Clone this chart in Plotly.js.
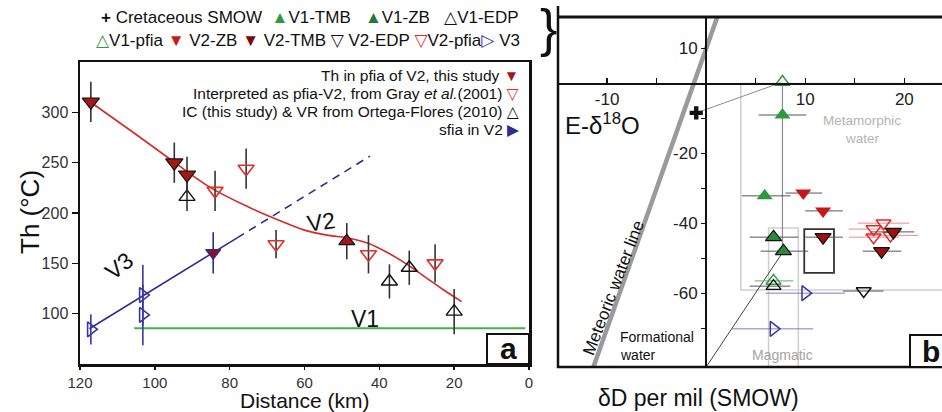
<!DOCTYPE html>
<html><head><meta charset="utf-8">
<script src="https://cdn.plot.ly/plotly-3.0.1.min.js"></script>
<style>html,body{margin:0;padding:0;background:#fff}</style>
</head><body><div id="chart" style="width:942px;height:412px"></div>
<script>
// ---------- Panel a: Th vs distance ----------
const tickKmA = [120, 100, 80, 60, 40, 20, 0];
const tickThA = [100, 150, 200, 250, 300];

const v2StudyKm = [117.1, 94.8, 91.4];
const v2StudyTh = [310.5, 250, 238];
const v2StudyErr = [20, 20, 18];
const v2StudyUpKm = [48.7];
const v2StudyUpTh = [172];
const v2StudyUpErr = [18];
const grayKm = [83.9, 75.6, 67.6, 42.9, 25.1];
const grayTh = [222, 244, 169, 159, 150];
const grayErr = [20, 20, 14, 19, 19];
const ortegaKm = [91.4, 37.3, 32.0, 20.0];
const ortegaTh = [216, 132, 145.6, 102];
const ortegaErr = [14, 17, 17, 22.5];
const sfiaKm = [84.4];
const sfiaTh = [160.5];
const sfiaErr = [20.5];
const v3Km = [117.1, 103.2, 103.2];
const v3Th = [84.4, 118.5, 98.7];
const v3Err = [15, 30, 30];

const v2CurveKm = [117.5, 105, 95, 85, 75, 67, 60, 54, 48, 43, 38, 33, 28, 23, 18];
const v2CurveTh = [311, 278, 251, 225, 206, 193, 183, 178, 175, 170, 161, 150, 137, 124, 112];
const v3SolidKm = [117.5, 78];
const v3SolidTh = [85, 175.3];
const v3DashKm = [78, 42.5];
const v3DashTh = [175.3, 256.5];
const v1LineKm = [105.5, 1];
const v1LineTh = [85.4, 85.4];

// ---------- Panel b: isotopes ----------
const tickOxB = [-10, -5, 5, 10, 15, 20];
const tickOxLabels = ['-10', '', '', '10', '', '20'];
const tickDB = [10, -10, -20, -30, -40, -50, -60, -70];
const tickDLabels = ['10', '', '-20', '', '-40', '', '-60', ''];

const smowO = [-1.0]; const smowD = [-8.4];
const v1TmbO = [7.7, 5.9]; const v1TmbD = [-9.0, -32.1];
const v1TmbLo = [2.4, 2.3]; const v1TmbHi = [2.4, 2.6];
const v1ZbO = [6.8, 7.8]; const v1ZbD = [-43.9, -47.9];
const v1ZbLo = [2.4, 2.3]; const v1ZbHi = [2.5, 2.5];
const v1EdpO = [6.8]; const v1EdpD = [-57.9];
const v1EdpLo = [2.4]; const v1EdpHi = [1.7];
const v1PfiaO = [7.7, 6.8]; const v1PfiaD = [0.4, -56.4];
const v1PfiaLo = [0, 1.9]; const v1PfiaHi = [0, 2.0];
const v2ZbO = [9.8, 11.8]; const v2ZbD = [-31.3, -36.4];
const v2ZbLo = [1.8, 1.8]; const v2ZbHi = [1.9, 2.0];
const v2TmbO = [11.8, 18.9, 17.7]; const v2TmbD = [-43.9, -42.4, -47.9];
const v2TmbLo = [1.8, 2.3, 1.9]; const v2TmbHi = [2.0, 2.1, 2.0];
const v2EdpO = [15.9]; const v2EdpD = [-59.3];
const v2EdpLo = [2.1]; const v2EdpHi = [2.0];
const v2PfiaO = [17.9, 16.9, 16.9, 18.6]; const v2PfiaD = [-39.9, -41.6, -43.9, -43.4];
const v2PfiaLo = [2.6, 2.5, 2.5, 2.6]; const v2PfiaHi = [2.6, 2.6, 2.6, 2.8];
const v3O = [10.0, 6.8]; const v3D = [-59.9, -70.1];
const v3Lo = [4.0, 4.2]; const v3Hi = [4.0, 4.0];

const mwlO = [-11.4, 1.3]; const mwlD = [-81.2, 20.4];
const smowLinkO = [-1.0, 7.5]; const smowLinkD = [-8.4, 0.2];
const pfiaDropO = [7.7, 7.7]; const pfiaDropD = [0, -47];
const diagO = [0, 7.8]; const diagD = [-81, -47.9];
const metamorphicBox = [3.5, 30, -59, 0];
const magmaticBox = [6.3, 9.3, -85, -41.3];
const studyBox = [9.9, 12.9, -54.1, -41.6];

// ---------- helpers ----------
const W = 942, H = 412;
const px = v => v / W;
const py = v => 1 - v / H;
const FONT = 'Arial, "Liberation Sans", "DejaVu Sans", sans-serif';

function errY(arr, color) {
  return {type: 'data', array: arr, visible: true, color: color || '#333', thickness: 1.6, width: 0};
}
function errX(hi, lo, color) {
  return {type: 'data', array: hi, arrayminus: lo, visible: true, color: color || '#555', thickness: 1, width: 0};
}

const traces = [
  // panel a lines
  {x: v1LineKm, y: v1LineTh, mode: 'lines', line: {color: '#45b04f', width: 2}, xaxis: 'x', yaxis: 'y'},
  {x: v3DashKm, y: v3DashTh, mode: 'lines', line: {color: '#2f2c92', width: 1.6, dash: '8px,6px'}, xaxis: 'x', yaxis: 'y'},
  {x: v3SolidKm, y: v3SolidTh, mode: 'lines', line: {color: '#2f2c92', width: 1.6}, xaxis: 'x', yaxis: 'y'},
  {x: v2CurveKm, y: v2CurveTh, mode: 'lines', line: {color: '#d42a2a', width: 1.6, shape: 'spline'}, xaxis: 'x', yaxis: 'y'},
  // panel a points
  {x: v3Km, y: v3Th, mode: 'markers', error_y: errY(v3Err, '#3a36a0'),
   marker: {symbol: 'triangle-right-open', size: 13, color: '#3a36a0', line: {width: 1.6}}, xaxis: 'x', yaxis: 'y'},
  {x: ortegaKm, y: ortegaTh, mode: 'markers', error_y: errY(ortegaErr),
   marker: {symbol: 'triangle-up-open', size: 14, color: '#111', line: {width: 1.4}}, xaxis: 'x', yaxis: 'y'},
  {x: grayKm, y: grayTh, mode: 'markers', error_y: errY(grayErr),
   marker: {symbol: 'triangle-down-open', size: 14, color: '#e0302a', line: {width: 1.6}}, xaxis: 'x', yaxis: 'y'},
  {x: v2StudyKm, y: v2StudyTh, mode: 'markers', error_y: errY(v2StudyErr),
   marker: {symbol: 'triangle-down', size: 15, color: '#a01818', line: {width: 1.2, color: '#111'}}, xaxis: 'x', yaxis: 'y'},
  {x: v2StudyUpKm, y: v2StudyUpTh, mode: 'markers', error_y: errY(v2StudyUpErr),
   marker: {symbol: 'triangle-up', size: 14, color: '#a01818', line: {width: 1.2, color: '#111'}}, xaxis: 'x', yaxis: 'y'},
  {x: sfiaKm, y: sfiaTh, mode: 'markers', error_y: errY(sfiaErr, '#2f2c92'),
   marker: {symbol: 'triangle-down', size: 13, color: '#8a1030', line: {width: 1.2, color: '#2f2c92'}}, xaxis: 'x', yaxis: 'y'},

  // panel b lines
  {x: mwlO, y: mwlD, mode: 'lines', line: {color: '#9a9a9a', width: 4.5}, xaxis: 'x2', yaxis: 'y2'},
  {x: smowLinkO, y: smowLinkD, mode: 'lines', line: {color: '#8a8a8a', width: 1}, xaxis: 'x2', yaxis: 'y2'},
  {x: pfiaDropO, y: pfiaDropD, mode: 'lines', line: {color: '#8a8a8a', width: 1.2}, xaxis: 'x2', yaxis: 'y2'},
  {x: diagO, y: diagD, mode: 'lines', line: {color: '#444', width: 1}, xaxis: 'x2', yaxis: 'y2'},
  // panel b points
  {x: v2PfiaO, y: v2PfiaD, mode: 'markers', error_x: errX(v2PfiaHi, v2PfiaLo, '#f08a8a'),
   marker: {symbol: 'triangle-down-open', size: 13, color: '#e02828', line: {width: 1.5}}, xaxis: 'x2', yaxis: 'y2'},
  {x: v3O, y: v3D, mode: 'markers', error_x: errX(v3Hi, v3Lo, '#7e7cc8'),
   marker: {symbol: 'triangle-right-open', size: 13, color: '#3a36a0', line: {width: 1.5}}, xaxis: 'x2', yaxis: 'y2'},
  {x: v1PfiaO, y: v1PfiaD, mode: 'markers', error_x: errX(v1PfiaHi, v1PfiaLo, '#55bb55'),
   marker: {symbol: 'triangle-up-open', size: 13, color: '#2e9a3e', line: {width: 1.5}}, xaxis: 'x2', yaxis: 'y2'},
  {x: v1EdpO, y: v1EdpD, mode: 'markers', error_x: errX(v1EdpHi, v1EdpLo, '#555'),
   marker: {symbol: 'triangle-up-open', size: 13, color: '#111', line: {width: 1.4}}, xaxis: 'x2', yaxis: 'y2'},
  {x: v2EdpO, y: v2EdpD, mode: 'markers', error_x: errX(v2EdpHi, v2EdpLo, '#555'),
   marker: {symbol: 'triangle-down-open', size: 13, color: '#111', line: {width: 1.4}}, xaxis: 'x2', yaxis: 'y2'},
  {x: v1TmbO, y: v1TmbD, mode: 'markers', error_x: errX(v1TmbHi, v1TmbLo),
   marker: {symbol: 'triangle-up', size: 14, color: '#2e9a3e', line: {width: 0}}, xaxis: 'x2', yaxis: 'y2'},
  {x: v1ZbO, y: v1ZbD, mode: 'markers', error_x: errX(v1ZbHi, v1ZbLo),
   marker: {symbol: 'triangle-up', size: 14, color: '#2a8a3a', line: {width: 1.2, color: '#111'}}, xaxis: 'x2', yaxis: 'y2'},
  {x: v2ZbO, y: v2ZbD, mode: 'markers', error_x: errX(v2ZbHi, v2ZbLo),
   marker: {symbol: 'triangle-down', size: 14, color: '#c8161c', line: {width: 0}}, xaxis: 'x2', yaxis: 'y2'},
  {x: v2TmbO, y: v2TmbD, mode: 'markers', error_x: errX(v2TmbHi, v2TmbLo),
   marker: {symbol: 'triangle-down', size: 14, color: '#a01010', line: {width: 1.2, color: '#111'}}, xaxis: 'x2', yaxis: 'y2'},
  {x: smowO, y: smowD, mode: 'markers',
   marker: {symbol: 'cross', size: 11, color: '#111', line: {width: 0}}, xaxis: 'x2', yaxis: 'y2'}
];

function ann(x, y, text, size, extra) {
  return Object.assign({xref: 'paper', yref: 'paper', x: px(x), y: py(y), text: text, showarrow: false,
    xanchor: 'center', yanchor: 'middle', font: {family: FONT, size: size, color: '#111'}}, extra || {});
}
const grayFont = (s, c) => ({font: {family: FONT, size: s, color: c}});

const annotations = [
  // top legend
  ann(310, 18, '<b>+</b> Cretaceous SMOW&nbsp;&nbsp;<span style="color:#2e9a3e">▲</span>V1-TMB&nbsp;&nbsp;&nbsp;<span style="color:#1f7a32">▲</span>V1-ZB&nbsp;&nbsp;&nbsp;△V1-EDP', 17),
  ann(308, 41, '<span style="color:#2e9a3e">△</span>V1-pfia <span style="color:#d01515">▼</span> V2-ZB <span style="color:#7a0a0a">▼</span> V2-TMB ▽ V2-EDP <span style="color:#e02828">▽</span>V2-pfia<span style="color:#3a36a8">▷</span> V3', 17),
  ann(548, 28, '}', 52),
  // panel a legend
  ann(521, 75, 'Th in pfia of V2, this study <span style="color:#9e1a1a">▼</span>', 15.5, {xanchor: 'right'}),
  ann(521, 93, 'Interpreted as pfia-V2, from Gray <i>et al.</i>(2001) <span style="color:#e0302a">▽</span>', 15.5, {xanchor: 'right'}),
  ann(521, 111, 'IC (this study) &amp; VR from Ortega-Flores (2010) △', 15.5, {xanchor: 'right'}),
  ann(521, 129, 'sfia in V2 <span style="color:#2f2c92">▶</span>', 15.5, {xanchor: 'right'}),
  // panel a labels
  ann(119, 266, 'V3', 23, {textangle: -38}),
  ann(321, 222, 'V2', 23, {textangle: -8}),
  ann(365, 319, 'V1', 23),
  ann(508, 348, '<b>a</b>', 30),
  ann(30, 212, 'Th (°C)', 26, {textangle: -90}),
  ann(305, 400, 'Distance (km)', 21, {borderpad: 0}),
  // panel b labels
  ann(602, 124, 'E-δ<sup>18</sup>O', 24),
  ann(862, 121, 'Metamorphic', 13.5, grayFont(13.5, '#b4b4b4')),
  ann(862, 138, 'water', 13.5, grayFont(13.5, '#b4b4b4')),
  ann(613, 288, 'Meteoric water line', 17, {textangle: -69}),
  ann(618, 337, 'Formational', 14, {xanchor: 'left'}),
  ann(618, 355, 'water', 14, {xanchor: 'left'}),
  ann(782, 355, 'Magmatic', 14, grayFont(14, '#a4a4a4')),
  ann(931, 351, '<b>b</b>', 30),
  ann(698, 398, 'δD per mil (SMOW)', 23, {borderpad: 0})
];

const shapes = [
  {type: 'rect', xref: 'x2', yref: 'y2', x0: metamorphicBox[0], x1: metamorphicBox[1], y0: metamorphicBox[2], y1: metamorphicBox[3],
   line: {color: '#cfcfcf', width: 1.5}, layer: 'below'},
  {type: 'rect', xref: 'x2', yref: 'y2', x0: magmaticBox[0], x1: magmaticBox[1], y0: magmaticBox[2], y1: magmaticBox[3],
   line: {color: '#cfcfcf', width: 1.5}, layer: 'below'},
  {type: 'rect', xref: 'x2', yref: 'y2', x0: studyBox[0], x1: studyBox[1], y0: studyBox[2], y1: studyBox[3],
   line: {color: '#333', width: 1.8}, layer: 'below'},
  // panel b frame
  {type: 'line', xref: 'paper', yref: 'paper', x0: px(558), x1: px(558), y0: py(6), y1: py(368), line: {color: '#111', width: 2.5}},
  {type: 'line', xref: 'paper', yref: 'paper', x0: px(558), x1: px(950), y0: py(17), y1: py(17), line: {color: '#111', width: 3}},
  {type: 'line', xref: 'paper', yref: 'paper', x0: px(557), x1: px(950), y0: py(367), y1: py(367), line: {color: '#111', width: 2.5}},
  // label boxes
  {type: 'rect', xref: 'paper', yref: 'paper', x0: px(487), x1: px(529), y0: py(334), y1: py(364), line: {color: '#111', width: 2}, fillcolor: '#fff'},
  {type: 'rect', xref: 'paper', yref: 'paper', x0: px(910), x1: px(950), y0: py(335), y1: py(367), line: {color: '#111', width: 2}, fillcolor: '#fff'}
];

const axisFont = {family: FONT, size: 16, color: '#333'};
const layout = {
  width: W, height: H,
  margin: {l: 0, r: 0, t: 0, b: 0},
  paper_bgcolor: '#fff', plot_bgcolor: 'rgba(0,0,0,0)',
  showlegend: false,
  xaxis: {domain: [px(80), px(529)], range: [120, 0], anchor: 'y', tickvals: tickKmA, ticks: 'outside', ticklen: 3, tickwidth: 1.5,
    tickcolor: '#111', showline: true, linewidth: 2.5, linecolor: '#111', mirror: true, showgrid: false, zeroline: false,
    tickfont: {family: FONT, size: 15, color: '#333'}},
  yaxis: {domain: [py(364), py(62)], range: [50, 350], anchor: 'x', tickvals: tickThA, ticks: 'outside', ticklen: 6, tickwidth: 1.5,
    tickcolor: '#111', showline: true, linewidth: 2.5, linecolor: '#111', mirror: true, showgrid: false, zeroline: false,
    tickfont: axisFont},
  xaxis2: {domain: [px(558), 1], range: [-14.95, 23.8], anchor: 'free', position: py(83.5), tickvals: tickOxB, ticktext: tickOxLabels,
    ticks: 'inside', ticklen: 5, tickwidth: 1.3, tickcolor: '#111', showline: true, linewidth: 2, linecolor: '#111',
    showgrid: false, zeroline: false, tickfont: {family: FONT, size: 17, color: '#222'}},
  yaxis2: {domain: [py(367), py(17)], range: [-81, 19], anchor: 'free', position: px(706), tickvals: tickDB, ticktext: tickDLabels,
    ticks: 'outside', ticklen: 4, tickwidth: 1.3, tickcolor: '#111', showline: true, linewidth: 2, linecolor: '#111',
    showgrid: false, zeroline: false, tickfont: {family: FONT, size: 17, color: '#222'}},
  annotations: annotations,
  shapes: shapes
};

Plotly.newPlot('chart', traces, layout, {displayModeBar: false, staticPlot: true});
</script>
</body></html>
